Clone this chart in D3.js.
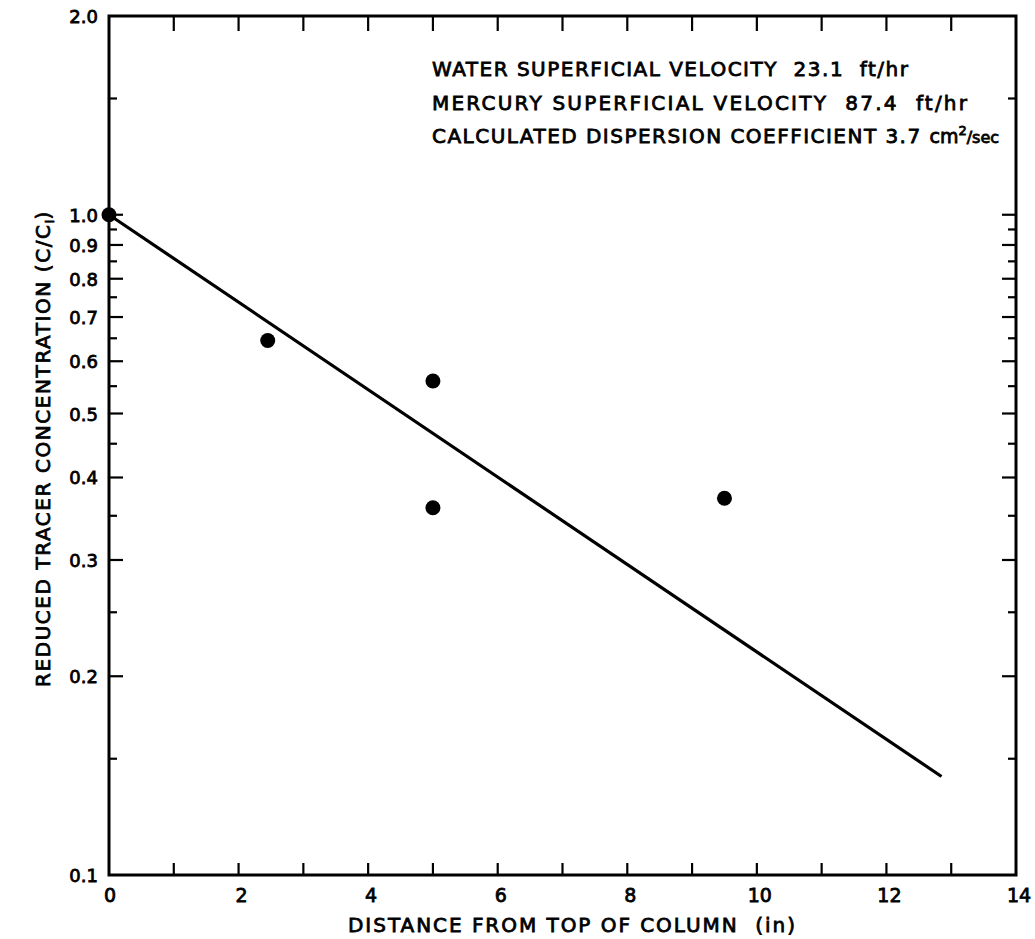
<!DOCTYPE html>
<html>
<head>
<meta charset="utf-8">
<script src="https://cdn.jsdelivr.net/npm/d3@7"></script>
<style>
  html, body { margin: 0; padding: 0; background: #fff; }
  svg { display: block; }
  text { font-family: "DejaVu Sans", "Liberation Sans", sans-serif; fill: #000; stroke: #000; stroke-width: 0.8px; }
</style>
</head>
<body>
<svg id="chart" width="1035" height="939"></svg>
<script>
// ---- data ----
const pointX = [0, 2.45, 5.0, 5.0, 9.5];
const pointY = [1.0, 0.645, 0.56, 0.36, 0.372];
const fitX = [0, 12.85];
const fitY = [1.0, 0.141];
const xTicks = [0, 2, 4, 6, 8, 10, 12, 14];
const xMinorTicks = [1, 2, 3, 4, 5, 6, 7, 8, 9, 10, 11, 12, 13];
const yLabels = [2.0, 1.0, 0.9, 0.8, 0.7, 0.6, 0.5, 0.4, 0.3, 0.2, 0.1];
const yMajorTicks = [1.0, 0.9, 0.8, 0.7, 0.6, 0.5, 0.4, 0.3, 0.2];
const yMinorTicks = [1.5, 0.95, 0.85, 0.75, 0.65, 0.55, 0.45, 0.35, 0.25, 0.15];
const notes = [
  "WATER SUPERFICIAL VELOCITY\u00a0\u00a023.1\u00a0\u00a0ft/hr",
  "MERCURY SUPERFICIAL VELOCITY\u00a0\u00a087.4\u00a0\u00a0ft/hr",
  "CALCULATED DISPERSION COEFFICIENT 3.7\u00a0"
];
const noteWidths = [476, 535, 496];

(function () {
const svg = d3.select("#chart");
const pl = 109, pr = 1016, pt = 16, pb = 875;
const x = d3.scaleLinear().domain([0, 14]).range([pl, pr]);
const y = d3.scaleLog().domain([0.1, 2]).range([pb, pt]);

const g = svg.append("g");

// notes (drawn first so the frame sits on top of the clipped end)
notes.forEach((t, i) => {
  const tx = g.append("text")
    .attr("x", 432).attr("y", 76 + i * 33.5)
    .attr("font-size", 20);
  tx.append("tspan").attr("textLength", noteWidths[i]).attr("lengthAdjust", "spacing").text(t);
  if (i === 2) {
    tx.append("tspan").attr("font-size", 19).text("cm");
    tx.append("tspan").attr("font-size", 13).attr("dy", -8).text("2");
    tx.append("tspan").attr("dy", 8).attr("font-size", 16).text("/sec");
  }
});

// frame
g.append("rect").attr("x", pl).attr("y", pt)
  .attr("width", pr - pl).attr("height", pb - pt)
  .attr("fill", "none").attr("stroke", "#000").attr("stroke-width", 3);

// x ticks (top and bottom, inward)
g.selectAll(null).data(xMinorTicks).enter().append("line")
  .attr("x1", d => x(d)).attr("x2", d => x(d))
  .attr("y1", pb).attr("y2", pb - 12)
  .attr("stroke", "#000").attr("stroke-width", 2.2);
g.selectAll(null).data(xMinorTicks).enter().append("line")
  .attr("x1", d => x(d)).attr("x2", d => x(d))
  .attr("y1", pt).attr("y2", pt + 15)
  .attr("stroke", "#000").attr("stroke-width", 2.2);

// y ticks (left and right, inward)
function yTicks(vals, len) {
  g.selectAll(null).data(vals).enter().append("line")
    .attr("x1", pl).attr("x2", pl + len)
    .attr("y1", d => y(d)).attr("y2", d => y(d))
    .attr("stroke", "#000").attr("stroke-width", 2.2);
  g.selectAll(null).data(vals).enter().append("line")
    .attr("x1", pr).attr("x2", pr - len)
    .attr("y1", d => y(d)).attr("y2", d => y(d))
    .attr("stroke", "#000").attr("stroke-width", 2.2);
}
yTicks(yMajorTicks, 14);
yTicks(yMinorTicks, 8);

// x labels
g.selectAll(null).data(xTicks).enter().append("text")
  .attr("x", d => x(d) + (d === 0 ? 1 : 3)).attr("y", pb + 27)
  .attr("text-anchor", "middle")
  .attr("font-size", 19)
  .text(d => String(d));

// y labels
g.selectAll(null).data(yLabels).enter().append("text")
  .attr("x", pl - 11).attr("y", d => y(d) + 7)
  .attr("text-anchor", "end")
  .attr("font-size", 18)
  .text(d => d.toFixed(1));

// axis titles
g.append("text")
  .attr("x", 348).attr("y", 932)
  .attr("font-size", 20)
  .attr("textLength", 447).attr("lengthAdjust", "spacing")
  .text("DISTANCE FROM TOP OF COLUMN\u00a0\u00a0(in)");

const yt = g.append("text")
  .attr("transform", "translate(50,687) rotate(-90)")
  .attr("font-size", 20);
yt.append("tspan").attr("textLength", 462).attr("lengthAdjust", "spacing")
  .text("REDUCED TRACER CONCENTRATION (C/C");
yt.append("tspan").attr("font-size", 13).attr("dy", 4).text("I");
yt.append("tspan").attr("dy", -4).text(")");

// fit line
const line = d3.line().x(d => x(d[0])).y(d => y(d[1]));
g.append("path")
  .datum(fitX.map((v, i) => [v, fitY[i]]))
  .attr("d", line)
  .attr("fill", "none").attr("stroke", "#000").attr("stroke-width", 3.2);

// points
g.selectAll(null).data(pointX.map((v, i) => [v, pointY[i]])).enter().append("circle")
  .attr("cx", d => x(d[0])).attr("cy", d => y(d[1]))
  .attr("r", 7.5).attr("fill", "#000");
})();
</script>
</body>
</html>
